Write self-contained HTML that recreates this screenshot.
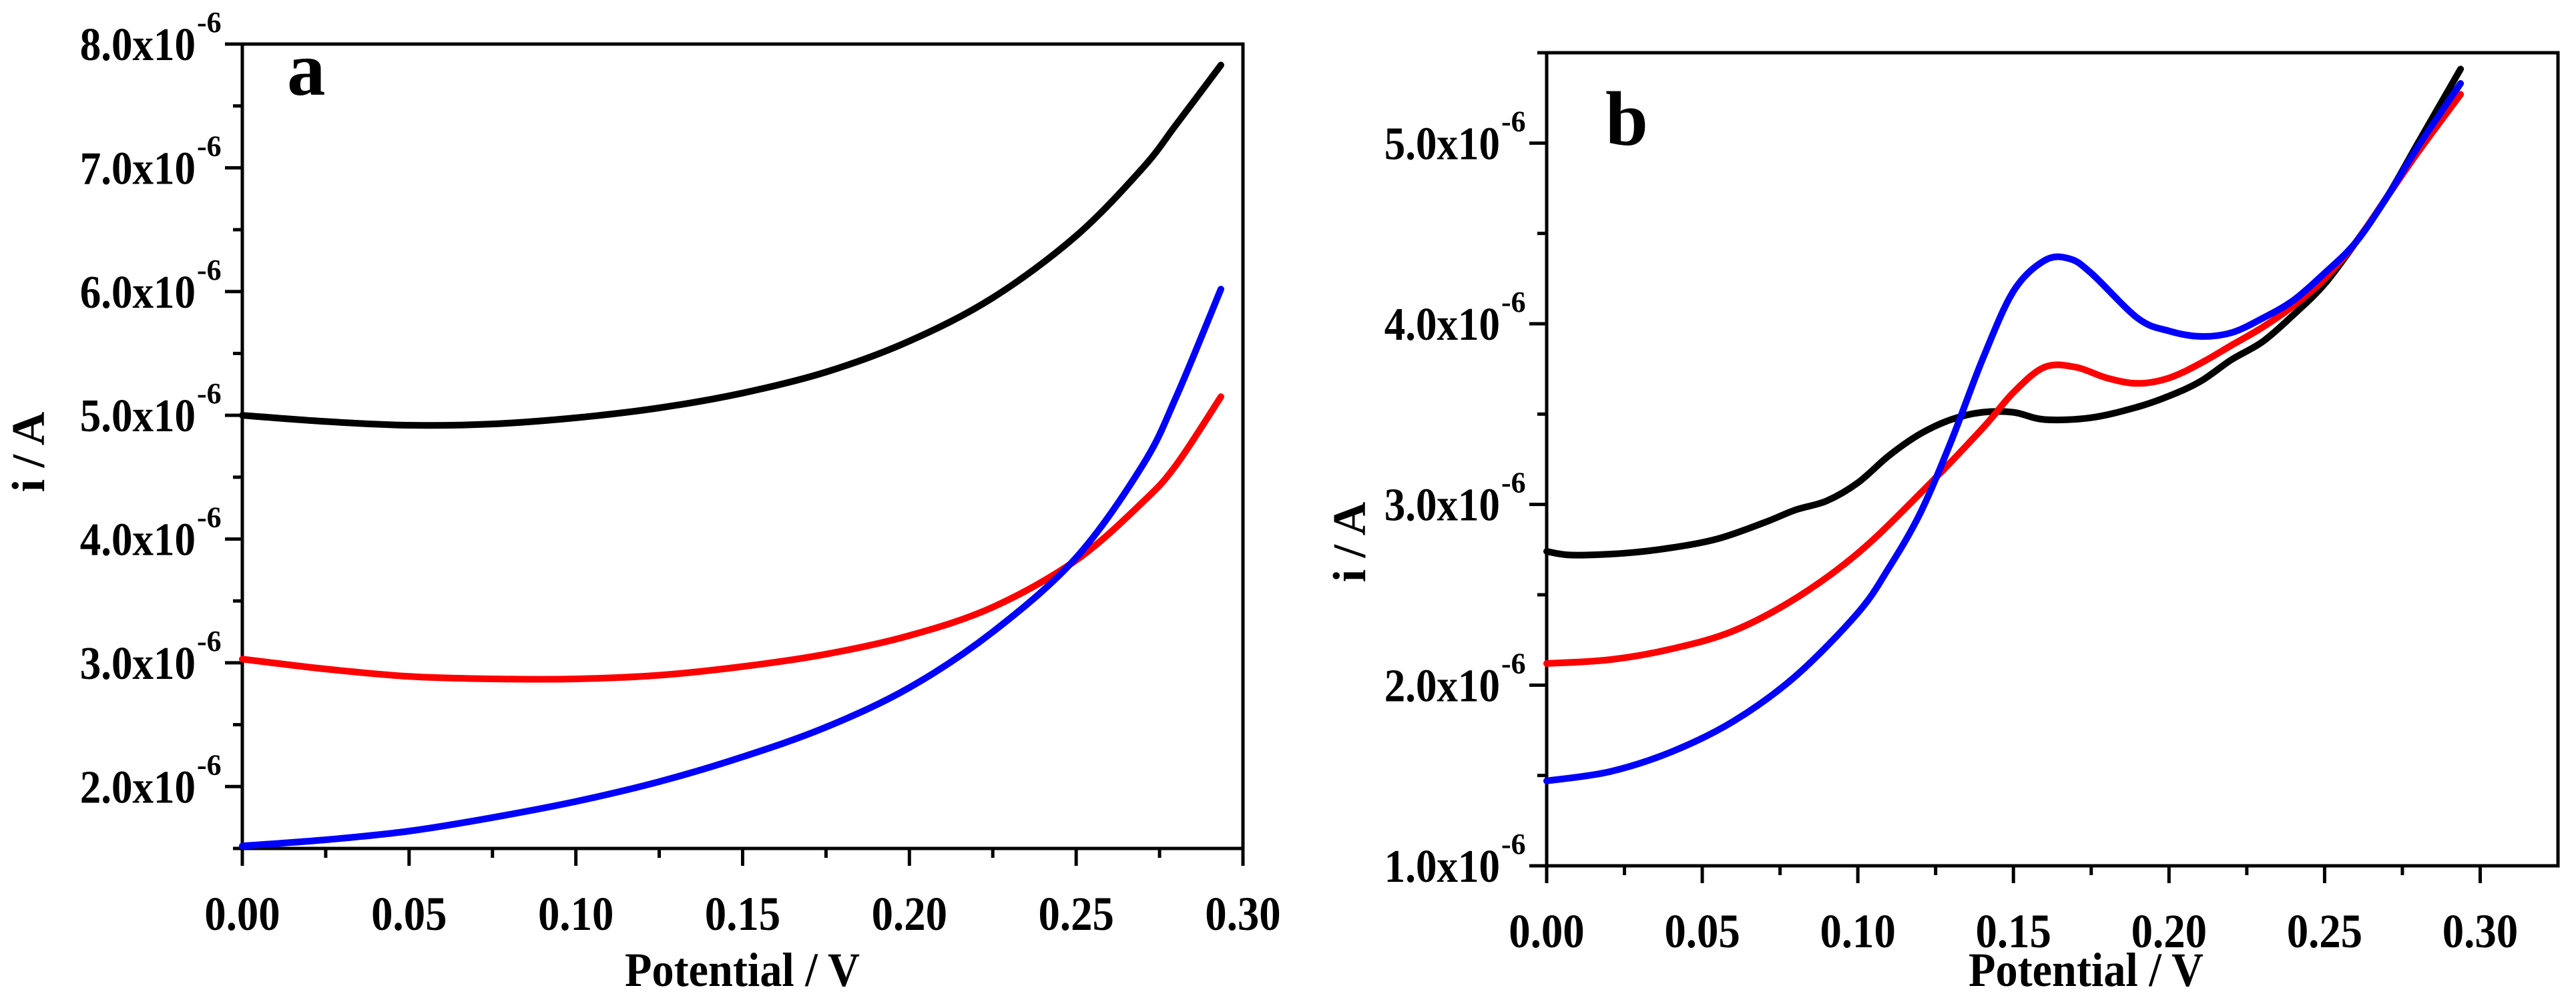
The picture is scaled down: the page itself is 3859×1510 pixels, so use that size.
<!DOCTYPE html>
<html><head><meta charset="utf-8">
<style>
html,body{margin:0;padding:0;background:#fff;}
svg{display:block;}
text{font-family:"Liberation Serif",serif;font-weight:bold;fill:#000;}
</style></head>
<body>
<svg id="chart" width="3859" height="1510" viewBox="0 0 3859 1510" xmlns="http://www.w3.org/2000/svg">
<rect width="3859" height="1510" fill="#fff"/>
</svg>
<script>
// ---- Panel a data ----
const aXTicks = [0, 0.05, 0.10, 0.15, 0.20, 0.25, 0.30];
const aXTickLabels = ["0.00","0.05","0.10","0.15","0.20","0.25","0.30"];
const aYTicks = [2, 3, 4, 5, 6, 7, 8];
const aYTickLabels = ["2.0x10","3.0x10","4.0x10","5.0x10","6.0x10","7.0x10","8.0x10"];
const aBlackX = [0,0.025,0.05,0.075,0.1,0.125,0.15,0.175,0.2,0.225,0.25,0.27,0.28,0.2934];
const aBlackY = [5.0,4.95,4.92,4.93,4.98,5.06,5.18,5.35,5.6,5.95,6.45,7.0,7.35,7.83];
const aRedX = [0,0.025,0.05,0.075,0.1,0.125,0.15,0.175,0.2,0.225,0.25,0.27,0.28,0.2934];
const aRedY = [3.03,2.95,2.89,2.87,2.87,2.9,2.97,3.07,3.22,3.45,3.83,4.3,4.6,5.15];
const aBlueX = [0,0.025,0.05,0.075,0.1,0.125,0.15,0.175,0.2,0.225,0.25,0.27,0.28,0.2934];
const aBlueY = [1.52,1.57,1.64,1.75,1.88,2.04,2.24,2.48,2.8,3.25,3.85,4.6,5.15,6.02];
// ---- Panel b data ----
const bXTicks = [0, 0.05, 0.10, 0.15, 0.20, 0.25, 0.30];
const bXTickLabels = ["0.00","0.05","0.10","0.15","0.20","0.25","0.30"];
const bYTicks = [1, 2, 3, 4, 5];
const bYTickLabels = ["1.0x10","2.0x10","3.0x10","4.0x10","5.0x10"];
const bBlackX = [0,0.008,0.025,0.04,0.055,0.07,0.08,0.09,0.1,0.11,0.12,0.13,0.14,0.15,0.16,0.175,0.19,0.2,0.21,0.22,0.23,0.24,0.25,0.26,0.27,0.28,0.2937];
const bBlackY = [2.74,2.72,2.73,2.76,2.81,2.9,2.97,3.02,3.12,3.27,3.39,3.47,3.51,3.51,3.47,3.48,3.54,3.6,3.68,3.8,3.9,4.05,4.22,4.45,4.7,5.0,5.41];
const bRedX = [0,0.02,0.04,0.06,0.08,0.1,0.12,0.14,0.15,0.16,0.17,0.18,0.19,0.2,0.21,0.22,0.23,0.24,0.25,0.26,0.27,0.28,0.2937];
const bRedY = [2.12,2.14,2.2,2.3,2.48,2.73,3.06,3.42,3.62,3.76,3.76,3.7,3.67,3.7,3.78,3.88,3.98,4.1,4.25,4.45,4.7,4.95,5.27];
const bBlueX = [0,0.02,0.04,0.06,0.08,0.1,0.11,0.12,0.13,0.14,0.15,0.16,0.168,0.175,0.19,0.2,0.21,0.22,0.23,0.24,0.25,0.26,0.27,0.28,0.2937];
const bBlueY = [1.47,1.52,1.63,1.8,2.05,2.4,2.65,2.95,3.35,3.8,4.18,4.35,4.36,4.28,4.03,3.96,3.93,3.95,4.03,4.13,4.28,4.45,4.7,4.98,5.33];

const NS = "http://www.w3.org/2000/svg";
const svg = document.getElementById("chart");
function mk(tag, attrs, parent) {
  const e = document.createElementNS(NS, tag);
  for (const k in attrs) e.setAttribute(k, attrs[k]);
  (parent || svg).appendChild(e);
  return e;
}
function smoothPath(P) {
  let d = "M" + P[0][0].toFixed(1) + "," + P[0][1].toFixed(1);
  for (let i = 0; i < P.length - 1; i++) {
    const p0 = P[Math.max(i - 1, 0)], p1 = P[i], p2 = P[i + 1], p3 = P[Math.min(i + 2, P.length - 1)];
    const c1x = p1[0] + (p2[0] - p0[0]) / 6, c1y = p1[1] + (p2[1] - p0[1]) / 6;
    const c2x = p2[0] - (p3[0] - p1[0]) / 6, c2y = p2[1] - (p3[1] - p1[1]) / 6;
    d += " C" + c1x.toFixed(1) + "," + c1y.toFixed(1) + " " + c2x.toFixed(1) + "," + c2y.toFixed(1) + " " + p2[0].toFixed(1) + "," + p2[1].toFixed(1);
  }
  return d;
}

function panel(cfg) {
  const g = mk("g", {});
  
  
  const sx = v => cfg.left + (v - cfg.xmin) / (cfg.xmax - cfg.xmin) * (cfg.right - cfg.left);
  const sy = v => cfg.bottom - (v - cfg.ymin) / (cfg.ymax - cfg.ymin) * (cfg.bottom - cfg.top);
  const frame = mk("rect", {x: cfg.left, y: cfg.top, width: cfg.right - cfg.left, height: cfg.bottom - cfg.top, fill: "none", stroke: "#000", "stroke-width": 5}, g);
  
  
  cfg.xTicks.forEach((t, i) => {
    const x = sx(t);
    const tk = mk("line", {x1: x, y1: cfg.bottom, x2: x, y2: cfg.bottom + 26, stroke: "#000", "stroke-width": 5}, g);
    
    
    const lb = mk("text", {x: 0, y: 0, "font-size": 72, "text-anchor": "middle", transform: "translate(" + x + "," + (cfg.bottom + 122) + ") scale(0.9,1)"}, g);
    lb.textContent = cfg.xTickLabels[i];
    
    
    if (i < cfg.xTicks.length - 1) {
      const mx = sx(t + 0.025);
      const mt = mk("line", {x1: mx, y1: cfg.bottom, x2: mx, y2: cfg.bottom + 14, stroke: "#000", "stroke-width": 5}, g);
      
      
    }
  });
  cfg.yTicks.forEach((t, i) => {
    const y = sy(t);
    const tk = mk("line", {x1: cfg.left, y1: y, x2: cfg.left - 26, y2: y, stroke: "#000", "stroke-width": 5}, g);
    
    
    const lb = mk("text", {x: 0, y: 0, "font-size": 70, "text-anchor": "end", transform: "translate(" + (cfg.left - 70) + "," + (y + 24) + ") scale(0.9,1)"}, g);
    lb.textContent = cfg.yTickLabels[i];
    
    
    const sp = mk("text", {x: cfg.left - 68, y: y - 18, "font-size": 44, "text-anchor": "start"}, g);
    sp.textContent = "-6";
    
    
  });
  for (let v = cfg.ymin; v <= cfg.ymax + 1e-9; v += 0.5) {
    if (Math.abs(v - Math.round(v)) < 1e-9) continue;
    const y = sy(v);
    const mt = mk("line", {x1: cfg.left, y1: y, x2: cfg.left - 14, y2: y, stroke: "#000", "stroke-width": 5}, g);
    
    
  }
  cfg.series.forEach(s => {
    const P = s.xs.map((x, i) => [sx(x), sy(s.ys[i])]);
    const pl = mk("path", {d: smoothPath(P), fill: "none", stroke: s.color, "stroke-width": 10, "stroke-linejoin": "round", "stroke-linecap": "round"}, g);
    
    
  });
  const xt = mk("text", {x: 0, y: 0, "font-size": 72, "text-anchor": "middle", transform: "translate(" + cfg.xTitleX + ",1477) scale(0.92,1)"}, g);
  xt.textContent = "Potential / V";
  
  
  const yt = mk("text", {x: 0, y: 0, "font-size": 70, "text-anchor": "middle", transform: "translate(" + cfg.yTitleX + "," + cfg.yTitleY + ") rotate(-90)"}, g);
  yt.textContent = "i / A";
  
  
  const pl = mk("text", {x: cfg.labelX, y: cfg.labelY, "font-size": 115}, g);
  pl.textContent = cfg.label;
  
  
}

panel({name: "panel-a", left: 363, right: 1862, top: 66, bottom: 1271, xmin: 0, xmax: 0.30, ymin: 1.5, ymax: 8.0,
  xTicks: aXTicks, xTickLabels: aXTickLabels, yTicks: aYTicks, yTickLabels: aYTickLabels,
  series: [
    {name: "panel-a-black-curve", color: "#000", xs: aBlackX, ys: aBlackY},
    {name: "panel-a-red-curve", color: "#ff0000", xs: aRedX, ys: aRedY},
    {name: "panel-a-blue-curve", color: "#0000ff", xs: aBlueX, ys: aBlueY}
  ],
  xTitleX: 1112, yTitleX: 66, yTitleY: 677, label: "a", labelX: 430, labelY: 142});

panel({name: "panel-b", left: 2317, right: 3832, top: 79, bottom: 1297, xmin: 0, xmax: 0.325, ymin: 1.0, ymax: 5.5,
  xTicks: bXTicks, xTickLabels: bXTickLabels, yTicks: bYTicks, yTickLabels: bYTickLabels,
  series: [
    {name: "panel-b-black-curve", color: "#000", xs: bBlackX, ys: bBlackY},
    {name: "panel-b-red-curve", color: "#ff0000", xs: bRedX, ys: bRedY},
    {name: "panel-b-blue-curve", color: "#0000ff", xs: bBlueX, ys: bBlueY}
  ],
  xTitleX: 3125, yTitleX: 2045, yTitleY: 812, label: "b", labelX: 2405, labelY: 217});
</script>
</body></html>
